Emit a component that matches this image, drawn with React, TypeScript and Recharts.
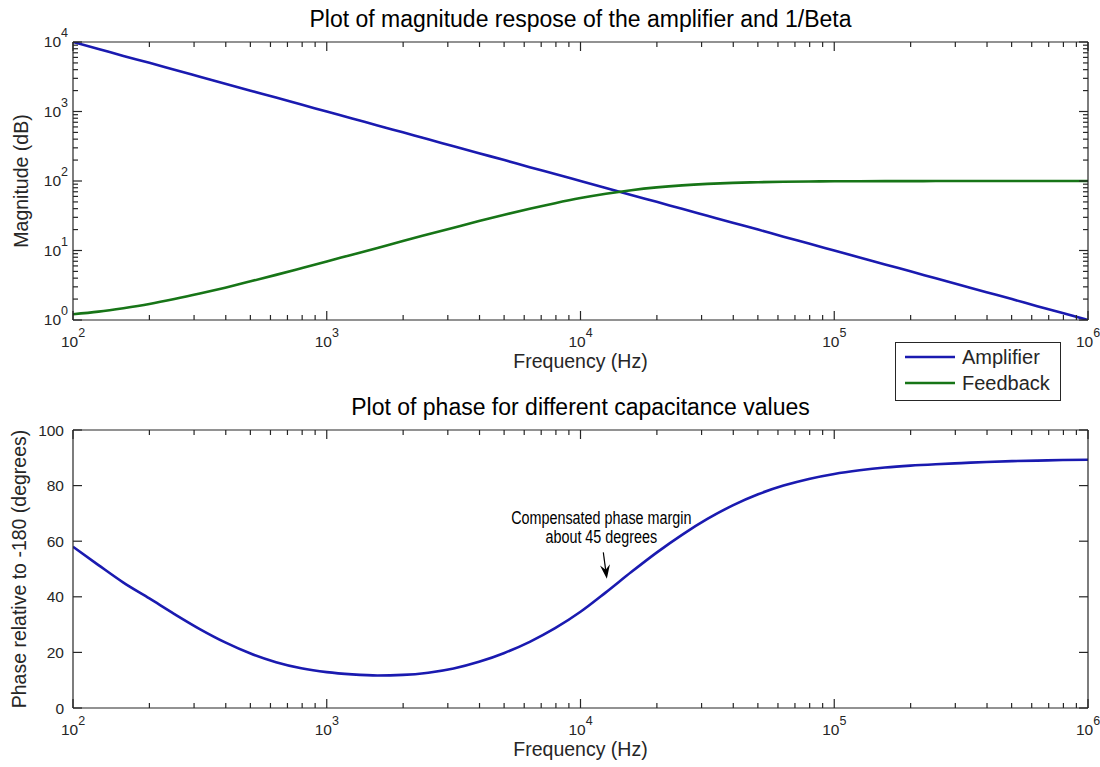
import React from 'react';
import { LineChart, Line, XAxis, YAxis, ReferenceLine } from 'recharts';

// frequency grid (Hz), ten points per decade
const FREQ = [
  100, 126, 158, 200, 251, 316, 398, 501, 631, 794,
  1000, 1259, 1585, 1995, 2512, 3162, 3981, 5012, 6310, 7943,
  10000, 12589, 15849, 19953, 25119, 31623, 39811, 50119, 63096, 79433,
  100000, 125893, 158489, 199526, 251189, 316228, 398107, 501187, 630957, 794328,
  1000000,
];

// open loop gain of the amplifier
const AMPLIFIER = [
  10000, 7943, 6310, 5012, 3981, 3162, 2512, 1995, 1585, 1259,
  1000, 794, 631, 501, 398, 316, 251, 200, 158, 126,
  100, 79.4, 63.1, 50.1, 39.8, 31.6, 25.1, 20.0, 15.8, 12.6,
  10.0, 7.94, 6.31, 5.01, 3.98, 3.16, 2.51, 2.0, 1.58, 1.26,
  1.0,
];

// 1/Beta
const FEEDBACK = [
  1.21, 1.32, 1.48, 1.7, 2.0, 2.4, 2.92, 3.6, 4.46, 5.56,
  6.95, 8.71, 10.9, 13.7, 17.1, 21.3, 26.5, 32.7, 39.9, 48.0,
  56.8, 65.6, 73.8, 80.9, 86.6, 90.9, 94.0, 96.0, 97.4, 98.4,
  99.0, 99.4, 99.6, 99.7, 99.8, 99.9, 99.9, 100, 100, 100,
  100,
];

// phase relative to -180 (degrees)
const PHASE = [
  58, 51.4, 45.1, 39.4, 33.8, 28.4, 23.6, 19.6, 16.5, 14.3,
  12.9, 12.1, 11.7, 11.9, 12.7, 14.2, 16.6, 19.8, 23.8, 28.7,
  34.6, 41.6, 48.9, 55.9, 62.3, 68.0, 72.9, 76.9, 80.0, 82.4,
  84.2, 85.5, 86.5, 87.2, 87.7, 88.1, 88.5, 88.8, 89.0, 89.2,
  89.3,
];

const X_DECADES = [100, 1000, 10000, 100000, 1000000];
const MAG_DECADES = [1, 10, 100, 1000, 10000];
const PHASE_TICKS = [0, 20, 40, 60, 80, 100];

const TITLE_TOP = 'Plot of magnitude respose of the amplifier and 1/Beta';
const TITLE_BOTTOM = 'Plot of phase for different capacitance values';
const X_LABEL = 'Frequency (Hz)';
const Y_LABEL_TOP = 'Magnitude (dB)';
const Y_LABEL_BOTTOM = 'Phase relative to -180 (degrees)';
const NOTE = ['Compensated phase margin', 'about 45 degrees'];
const ARROW_FROM = { f: 12300, phase: 56 };
const ARROW_TO = { f: 12700, phase: 46.5 };

const SERIES = [
  { key: 'amp', name: 'Amplifier', color: '#1a1ab0', values: AMPLIFIER },
  { key: 'fb', name: 'Feedback', color: '#177517', values: FEEDBACK },
];

const FONT = '"Liberation Sans", Arial, Helvetica, sans-serif';
const INK = '#262626';
const W = 1100;
const CH = 380;
const MARGIN = { top: 41, right: 11, bottom: 0, left: 0 };

// minor ticks 2..9 inside each decade
const withMinors = (decades: number[]) => {
  const out: number[] = [];
  decades.forEach((d, i) => {
    out.push(d);
    if (i < decades.length - 1) for (let k = 2; k <= 9; k++) out.push(d * k);
  });
  return out;
};
const X_TICKS = withMinors(X_DECADES);
const MAG_TICKS = withMinors(MAG_DECADES);

const isDecade = (v: number) => Math.abs(Math.log10(v) - Math.round(Math.log10(v))) < 1e-6;

const magData = FREQ.map((f, i) => ({ f, amp: AMPLIFIER[i], fb: FEEDBACK[i] }));
const phaseData = FREQ.map((f, i) => ({ f, phase: PHASE[i] }));

function PowerLabel({ x, y, exp, anchor }: any) {
  return (
    <text x={x} y={y} textAnchor={anchor} fontSize={15.5} fill={INK}>
      <tspan>10</tspan>
      <tspan dy={-10} fontSize={12.5}>{exp}</tspan>
    </text>
  );
}

function XTick({ x, y, payload, side, labels }: any) {
  const v = payload.value;
  const major = isDecade(v);
  const len = major ? 9 : 5;
  const dir = side === 'bottom' ? -1 : 1;
  return (
    <g>
      <line x1={x} y1={y} x2={x} y2={y + dir * len} stroke={INK} strokeWidth={1.2} />
      {labels && major && <PowerLabel x={x} y={y + 27} exp={Math.round(Math.log10(v))} anchor="middle" />}
    </g>
  );
}

function YTick({ x, y, payload, side, labels, log }: any) {
  const v = payload.value;
  const major = log ? isDecade(v) : true;
  const len = major ? 9 : 5;
  const dir = side === 'left' ? 1 : -1;
  return (
    <g>
      <line x1={x} y1={y} x2={x + dir * len} y2={y} stroke={INK} strokeWidth={1.2} />
      {labels && major && log && <PowerLabel x={x - 5} y={y + 5} exp={Math.round(Math.log10(v))} anchor="end" />}
      {labels && !log && (
        <text x={x - 9} y={y + 5.5} textAnchor="end" fontSize={15.5} fill={INK}>{v}</text>
      )}
    </g>
  );
}

const titleLabel = (text: string) => (p: any) => {
  const vb = p.viewBox;
  return (
    <text x={vb.x + vb.width / 2} y={vb.y + vb.height - 15} textAnchor="middle" fontSize={23} fill="#000">{text}</text>
  );
};

const xLabel = (p: any) => {
  const vb = p.viewBox;
  return (
    <text x={vb.x + vb.width / 2} y={vb.y + 48} textAnchor="middle" fontSize={19.5} fill={INK}>{X_LABEL}</text>
  );
};

const yLabel = (text: string, cx: number) => (p: any) => {
  const vb = p.viewBox;
  const cy = vb.y + vb.height / 2;
  return (
    <text x={cx} y={cy} transform={`rotate(-90 ${cx} ${cy})`} textAnchor="middle" fontSize={19.5} fill={INK}>{text}</text>
  );
};

function Arrow({ x1, y1, x2, y2 }: any) {
  const dx = x2 - x1;
  const dy = y2 - y1;
  const L = Math.hypot(dx, dy) || 1;
  const ux = dx / L;
  const uy = dy / L;
  const px = -uy;
  const py = ux;
  const back = 14;
  const half = 5;
  const notch = 9;
  const head = [
    [x2, y2],
    [x2 - ux * back + px * half, y2 - uy * back + py * half],
    [x2 - ux * notch, y2 - uy * notch],
    [x2 - ux * back - px * half, y2 - uy * back - py * half],
  ].map((q) => q.join(',')).join(' ');
  const cx = x1 - 2;
  return (
    <g>
      <line x1={x1} y1={y1} x2={x2 - ux * notch} y2={y2 - uy * notch} stroke="#000" strokeWidth={1.2} />
      <polygon points={head} fill="#000" />
      {NOTE.map((t, i) => (
        <text key={t} transform={`translate(${cx},${y1 - 28 + i * 19}) scale(0.82,1)`} x={0} y={0} textAnchor="middle" fontSize={17.5} fill="#000">{t}</text>
      ))}
    </g>
  );
}

function Legend() {
  return (
    <svg width={166} height={59} style={{ position: 'absolute', left: 895, top: 342 }}>
      <rect x={0.5} y={0.5} width={165} height={58} fill="#fff" stroke={INK} strokeWidth={1} />
      {SERIES.map((s, i) => (
        <g key={s.key}>
          <line x1={10} x2={60} y1={15 + i * 26} y2={15 + i * 26} stroke={s.color} strokeWidth={2.6} />
          <text x={67} y={22 + i * 26} fontSize={20} fill={INK}>{s.name}</text>
        </g>
      ))}
    </svg>
  );
}

const axisLine = { stroke: INK, strokeWidth: 1.2 };

function xAxes(title: string) {
  return [
    <XAxis key="xb" xAxisId="b" dataKey="f" type="number" scale="log" domain={[100, 1000000]} allowDataOverflow
      ticks={X_TICKS} interval={0} tickSize={0} tickMargin={0} tickLine={false} axisLine={axisLine} height={60}
      tick={(p: any) => <XTick {...p} side="bottom" labels />} label={xLabel} />,
    <XAxis key="xt" xAxisId="t" orientation="top" dataKey="f" type="number" scale="log" domain={[100, 1000000]} allowDataOverflow
      ticks={X_TICKS} interval={0} tickSize={0} tickMargin={0} tickLine={false} axisLine={axisLine} height={1}
      tick={(p: any) => <XTick {...p} side="top" />} label={titleLabel(title)} />,
  ];
}

export default function App() {
  return (
    <div style={{ position: 'absolute', left: 0, top: 0, width: W, height: 767, background: '#fff', fontFamily: FONT }}>
      <div style={{ position: 'absolute', left: 0, top: 0 }}>
        <LineChart width={W} height={CH} data={magData} margin={MARGIN}>
          {xAxes(TITLE_TOP)}
          <YAxis yAxisId="l" type="number" scale="log" domain={[1, 10000]} allowDataOverflow ticks={MAG_TICKS} interval={0}
            tickSize={0} tickMargin={0} tickLine={false} axisLine={axisLine} width={73}
            tick={(p: any) => <YTick {...p} side="left" labels log />} label={yLabel(Y_LABEL_TOP, 28)} />
          <YAxis yAxisId="r" orientation="right" type="number" scale="log" domain={[1, 10000]} allowDataOverflow ticks={MAG_TICKS} interval={0}
            tickSize={0} tickMargin={0} tickLine={false} axisLine={axisLine} width={1}
            tick={(p: any) => <YTick {...p} side="right" log />} />
          {SERIES.map((s) => (
            <Line key={s.key} xAxisId="b" yAxisId="l" dataKey={s.key} name={s.name} type="monotone" stroke={s.color}
              strokeWidth={2.6} dot={false} activeDot={false} isAnimationActive={false} />
          ))}
        </LineChart>
      </div>
      <div style={{ position: 'absolute', left: 0, top: 388 }}>
        <LineChart width={W} height={CH} data={phaseData} margin={MARGIN}>
          {xAxes(TITLE_BOTTOM)}
          <YAxis yAxisId="l" type="number" domain={[0, 100]} allowDataOverflow ticks={PHASE_TICKS} interval={0}
            tickSize={0} tickMargin={0} tickLine={false} axisLine={axisLine} width={73}
            tick={(p: any) => <YTick {...p} side="left" labels />} label={yLabel(Y_LABEL_BOTTOM, 26)} />
          <YAxis yAxisId="r" orientation="right" type="number" domain={[0, 100]} allowDataOverflow ticks={PHASE_TICKS} interval={0}
            tickSize={0} tickMargin={0} tickLine={false} axisLine={axisLine} width={1}
            tick={(p: any) => <YTick {...p} side="right" />} />
          <Line xAxisId="b" yAxisId="l" dataKey="phase" type="monotone" stroke={SERIES[0].color} strokeWidth={2.6}
            dot={false} activeDot={false} isAnimationActive={false} />
          <ReferenceLine xAxisId="b" yAxisId="l" ifOverflow="visible"
            segment={[{ x: ARROW_FROM.f, y: ARROW_FROM.phase }, { x: ARROW_TO.f, y: ARROW_TO.phase }]}
            shape={(p: any) => <Arrow {...p} />} />
        </LineChart>
      </div>
      <Legend />
    </div>
  );
}
